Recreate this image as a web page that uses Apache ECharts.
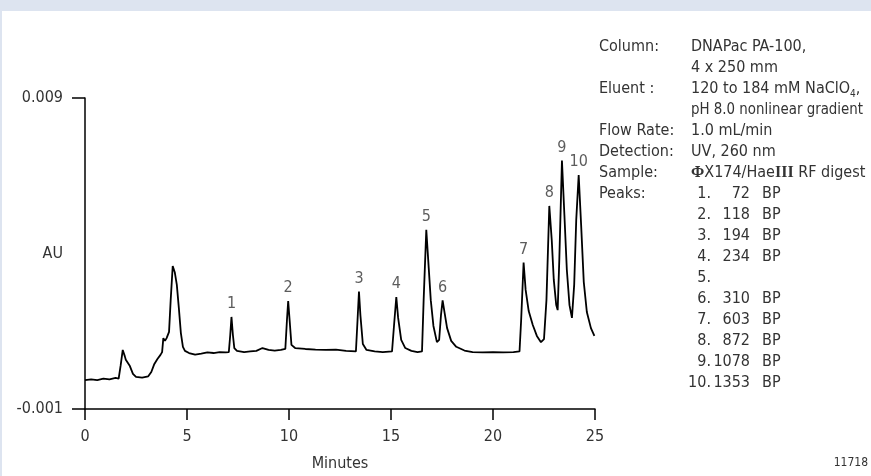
<!DOCTYPE html>
<html>
<head>
<meta charset="utf-8">
<script src="https://cdn.jsdelivr.net/npm/echarts@6/dist/echarts.min.js"></script>
<style>
html,body{margin:0;padding:0;background:#fff;}
#chart{width:871px;height:476px;}
</style>
</head>
<body>
<div id="chart"></div>
<script>
// ---- data ----
const timeMin = [0,0.3,0.6,0.9,1.2,1.5,1.65,1.75,1.85,1.95,2.0,2.08,2.2,2.35,2.5,2.8,3.1,3.25,3.4,3.55,3.7,3.78,3.84,3.92,4.0,4.12,4.2,4.3,4.4,4.5,4.6,4.7,4.8,4.9,5.1,5.4,5.7,6.0,6.3,6.6,6.9,7.05,7.12,7.18,7.25,7.32,7.45,7.8,8.1,8.4,8.7,9.0,9.3,9.6,9.82,9.9,9.96,10.03,10.12,10.3,10.8,11.3,11.8,12.3,12.8,13.28,13.36,13.43,13.5,13.62,13.8,14.2,14.6,15.05,15.15,15.26,15.35,15.5,15.7,16.0,16.3,16.52,16.6,16.73,16.85,16.95,17.08,17.25,17.36,17.45,17.53,17.62,17.75,17.95,18.2,18.6,19.0,19.5,20.0,20.5,21.0,21.3,21.38,21.5,21.6,21.75,21.95,22.15,22.35,22.5,22.62,22.76,22.88,22.98,23.1,23.17,23.25,23.38,23.5,23.62,23.75,23.87,23.98,24.08,24.2,24.32,24.45,24.6,24.8,24.97];
const absorbance = [-0.00007,-0.00005,-0.00007,-0.00002,-0.00005,0.0,-0.00002,0.00041,0.0009,0.0007,0.00058,0.00064,0.00038,0.00013,0.00003,0.00001,0.00005,0.00019,0.00045,0.00061,0.00074,0.00083,0.00128,0.00119,0.00128,0.00148,0.0025,0.0036,0.0034,0.003,0.00225,0.00144,0.001,0.00087,0.0008,0.00075,0.00078,0.00082,0.0008,0.00083,0.00082,0.00083,0.00138,0.00196,0.00138,0.00096,0.00087,0.00083,0.00085,0.00087,0.00096,0.0009,0.00088,0.0009,0.00093,0.00186,0.00247,0.00186,0.00106,0.00096,0.00093,0.00091,0.0009,0.00091,0.00087,0.00085,0.00186,0.00278,0.00202,0.00109,0.0009,0.00085,0.00083,0.00085,0.0017,0.0026,0.00193,0.00122,0.00096,0.00087,0.00083,0.00085,0.0025,0.00476,0.00353,0.0025,0.00167,0.00115,0.00122,0.00202,0.00249,0.00212,0.0016,0.00119,0.001,0.00088,0.00083,0.00082,0.00083,0.00082,0.00083,0.00085,0.00186,0.00371,0.00283,0.00215,0.0017,0.00135,0.00115,0.00125,0.0025,0.00553,0.00443,0.00315,0.00234,0.00218,0.00379,0.00699,0.00524,0.00347,0.00234,0.00193,0.003,0.00508,0.00652,0.00492,0.00308,0.00212,0.0016,0.00135];

const peakNames = ['1','2','3','4','5','6','7','8','9','10'];
const peakTimes = [7.18,9.96,13.43,15.26,16.73,17.53,21.5,22.76,23.38,24.2];
const peakTops  = [0.00196,0.00247,0.00278,0.0026,0.00476,0.00249,0.00371,0.00553,0.00699,0.00652];

const xTicks = [0,5,10,15,20,25];
const yTicks = [-0.001,0.009];
const yTickLabels = ['-0.001','0.009'];

const infoLabels = ['Column:','','Eluent :','','Flow Rate:','Detection:','Sample:','Peaks:'];
const infoValues = ['DNAPac PA-100,','4 x 250 mm','{t|120 to 184 mM NaClO}{s|4}{t|,}','pH 8.0 nonlinear gradient','1.0 mL/min','UV, 260 nm','{g|\u03A6}{t|X174/Hae}{g|III}{t| RF digest}',''];
const peakListNo = ['1.','2.','3.','4.','5.','6.','7.','8.','9.','10.'];
const peakListBp = ['72','118','194','234','','310','603','872','1078','1353'];
const peakListUnit = ['BP','BP','BP','BP','','BP','BP','BP','BP','BP'];
const figureId = '11718';

// ---- chart ----
const FONT = "'Liberation Sans Narrow','DejaVu Sans Condensed','Arial Narrow',sans-serif";
const SERIF = "'Liberation Serif','DejaVu Serif',serif";
const TXT = '#333';
const FS = 16;

const chart = echarts.init(document.getElementById('chart'), null, {renderer:'canvas'});

const graphics = [
  {type:'rect', shape:{x:0,y:0,width:871,height:11}, style:{fill:'#dde4f0'}, silent:true},
  {type:'rect', shape:{x:0,y:0,width:2,height:476}, style:{fill:'#dde4f0'}, silent:true}
];
const rowY0 = 47, rowH = 21;
const richStyles = {
  t:{fontFamily:FONT,fontSize:FS,fill:TXT,lineHeight:20},
  s:{fontFamily:FONT,fontSize:10,fill:TXT,lineHeight:10,verticalAlign:'bottom'},
  g:{fontFamily:SERIF,fontSize:FS,fontWeight:'bold',fill:TXT,lineHeight:20}
};
infoLabels.forEach((lab,i)=>{
  if(lab) graphics.push({type:'text', x:599, y:rowY0+rowH*i,
    style:{text:lab, fontFamily:FONT, fontSize:FS, fill:TXT, verticalAlign:'middle'}});
  const v = infoValues[i];
  if(v){
    const isRich = v.indexOf('{')===0;
    graphics.push({type:'text', x:691, y:rowY0+rowH*i, scaleX:(v.length>20 && !isRich)?0.93:1,
      style:{text:v, rich:isRich?richStyles:undefined, fontFamily:FONT, fontSize:FS, fill:TXT, verticalAlign:'middle'}});
  }
});
const peakRow0 = 7;
peakListNo.forEach((n,i)=>{
  const y = rowY0 + rowH*(peakRow0+i);
  graphics.push({type:'text', x:711, y:y, style:{text:n, fontFamily:FONT, fontSize:FS, fill:TXT, align:'right', verticalAlign:'middle'}});
  if(peakListBp[i]) graphics.push({type:'text', x:750, y:y, style:{text:peakListBp[i], fontFamily:FONT, fontSize:FS, fill:TXT, align:'right', verticalAlign:'middle'}});
  if(peakListUnit[i]) graphics.push({type:'text', x:762, y:y, style:{text:peakListUnit[i], fontFamily:FONT, fontSize:FS, fill:TXT, verticalAlign:'middle'}});
});
graphics.push({type:'text', x:868, y:463, style:{text:figureId, fontFamily:FONT, fontSize:12, fill:TXT, align:'right', verticalAlign:'middle'}});

const option = {
  animation:false,
  backgroundColor:'#fff',
  grid:{left:85, top:98, width:510, height:311, containLabel:false, outerBoundsMode:'none'},
  xAxis:{
    type:'value', min:0, max:25, interval:5,
    name:'Minutes', nameLocation:'middle', nameGap:47, nameMoveOverlap:false,
    nameTextStyle:{fontFamily:FONT, fontSize:FS, color:TXT},
    axisLine:{show:true, onZero:false, lineStyle:{color:'#000', width:1.5}},
    axisTick:{show:true, inside:false, length:11, lineStyle:{color:'#000', width:1.5}, customValues:xTicks},
    axisLabel:{fontFamily:FONT, fontSize:FS, color:TXT, margin:20, customValues:xTicks},
    splitLine:{show:false}
  },
  yAxis:{
    type:'value', min:yTicks[0], max:yTicks[1],
    name:'AU', nameLocation:'middle', nameRotate:0, nameGap:22, nameMoveOverlap:false,
    nameTextStyle:{fontFamily:FONT, fontSize:FS, color:TXT},
    axisLine:{show:true, onZero:false, lineStyle:{color:'#000', width:1.5}},
    axisTick:{show:true, inside:false, length:13, lineStyle:{color:'#000', width:1.5}, customValues:yTicks},
    axisLabel:{fontFamily:FONT, fontSize:FS, color:TXT, margin:22, customValues:yTicks,
      formatter:(v)=>{const k=yTicks.findIndex(t=>Math.abs(t-v)<1e-9);return k>=0?yTickLabels[k]:'';}},
    splitLine:{show:false}
  },
  series:[
    {type:'line', data:timeMin.map((t,i)=>[t,absorbance[i]]), showSymbol:false, symbol:'none',
      lineStyle:{color:'#000', width:1.8}, clip:false, silent:true},
    {type:'scatter', data:peakTimes.map((t,i)=>[t,peakTops[i]]), symbolSize:0, silent:true,
      label:{show:true, position:'top', distance:5, fontFamily:FONT, fontSize:FS, color:TXT,
        formatter:(p)=>peakNames[p.dataIndex]}}
  ],
  graphic:graphics
};
chart.setOption(option);
</script>
</body>
</html>
